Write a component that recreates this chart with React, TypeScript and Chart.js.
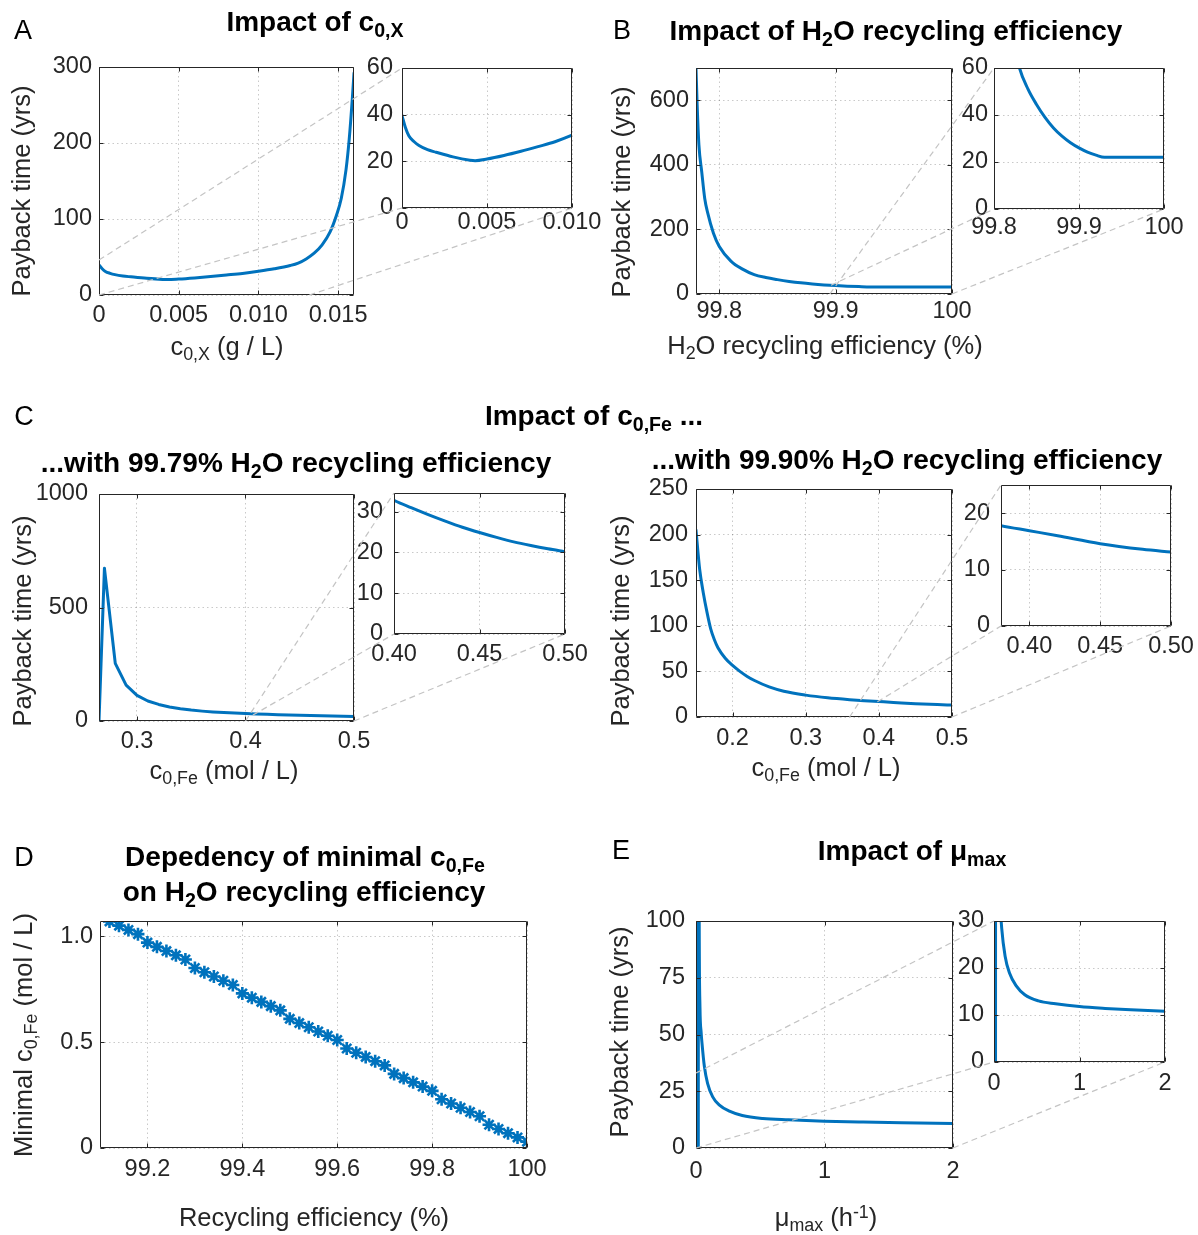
import React, { useEffect, useRef } from "react";
import { Chart, registerables } from "chart.js";

Chart.register(...registerables);

const BLUE = "#0072BD";
const AXIS = "#262626";
const GRID = "rgba(38,38,38,0.25)";
const CONN = "#c4c4c4";
const FONT = '"Liberation Sans", Arial, Helvetica, sans-serif';

// ---------------- Panel A : impact of c0,X ----------------
const A_X = [0, 0.0002, 0.0004, 0.0007, 0.001, 0.0015, 0.002, 0.003, 0.004, 0.0043, 0.005, 0.006, 0.007, 0.008, 0.009, 0.010, 0.011, 0.012, 0.0125, 0.013, 0.0135, 0.014, 0.0145, 0.0149, 0.0152, 0.0155, 0.0157, 0.0159, 0.016];
const A_Y = [39.6, 34.5, 31, 28.5, 26.8, 25, 23.9, 21.9, 20.5, 20.3, 21, 22.5, 24.3, 26.3, 28.4, 31.2, 34.5, 38.8, 42, 47.5, 55, 66, 83, 105, 127, 165, 205, 260, 292];
const A_XTICKS = [0, 0.005, 0.01, 0.015];
const A_XLABELS = ["0", "0.005", "0.010", "0.015"];
const A_YTICKS = [0, 100, 200, 300];
const A_YLABELS = ["0", "100", "200", "300"];
const AI_XTICKS = [0, 0.005, 0.01];
const AI_XLABELS = ["0", "0.005", "0.010"];
const AI_YTICKS = [0, 20, 40, 60];
const AI_YLABELS = ["0", "20", "40", "60"];

// ---------------- Panel B : H2O recycling efficiency ----------------
const B_X = [99.78, 99.781, 99.7825, 99.785, 99.7875, 99.79, 99.795, 99.8, 99.81, 99.82, 99.83, 99.84, 99.85, 99.86, 99.87, 99.88, 99.89, 99.9, 99.91, 99.92, 99.93, 99.96, 100];
const B_Y = [700, 585, 462, 376, 296, 252, 188, 147, 102, 77, 60, 51, 44.5, 39, 34.5, 31, 28.2, 26, 24.2, 22.9, 22, 22, 22];
const B_XTICKS = [99.8, 99.9, 100];
const B_XLABELS = ["99.8", "99.9", "100"];
const B_YTICKS = [0, 200, 400, 600];
const B_YLABELS = ["0", "200", "400", "600"];
const BI_YTICKS = [0, 20, 40, 60];
const BI_YLABELS = ["0", "20", "40", "60"];

// ---------------- Panel C : c0,Fe at 99.79 % ----------------
const CL_X = [0.265, 0.27, 0.28, 0.29, 0.3, 0.31, 0.32, 0.33, 0.34, 0.35, 0.36, 0.37, 0.38, 0.39, 0.4, 0.41, 0.42, 0.43, 0.44, 0.45, 0.46, 0.47, 0.48, 0.49, 0.5];
const CL_Y = [0, 673, 254, 158, 113, 88, 73, 62, 54, 48, 43.5, 40, 37.3, 35, 32.8, 31, 29.3, 27.7, 26.2, 24.9, 23.7, 22.6, 21.7, 20.9, 20.2];
const CL_XTICKS = [0.3, 0.4, 0.5];
const CL_XLABELS = ["0.3", "0.4", "0.5"];
const CL_YTICKS = [0, 500, 1000];
const CL_YLABELS = ["0", "500", "1000"];
const CLI_XTICKS = [0.4, 0.45, 0.5];
const CLI_XLABELS = ["0.40", "0.45", "0.50"];
const CLI_YTICKS = [0, 10, 20, 30];
const CLI_YLABELS = ["0", "10", "20", "30"];

// ---------------- Panel C : c0,Fe at 99.90 % ----------------
const CR_X = [0.15, 0.155, 0.16, 0.165, 0.17, 0.175, 0.18, 0.19, 0.2, 0.21, 0.22, 0.23, 0.25, 0.27, 0.3, 0.33, 0.36, 0.38, 0.4, 0.42, 0.45, 0.48, 0.5];
const CR_Y = [205, 162, 136, 115, 97, 85, 76, 64.5, 56.5, 50, 44.5, 40, 33, 28.3, 24, 21, 18.9, 17.8, 16.9, 16, 14.6, 13.6, 13.1];
const CR_XTICKS = [0.2, 0.3, 0.4, 0.5];
const CR_XLABELS = ["0.2", "0.3", "0.4", "0.5"];
const CR_YTICKS = [0, 50, 100, 150, 200, 250];
const CR_YLABELS = ["0", "50", "100", "150", "200", "250"];
const CRI_XTICKS = [0.4, 0.45, 0.5];
const CRI_XLABELS = ["0.40", "0.45", "0.50"];
const CRI_YTICKS = [0, 10, 20];
const CRI_YLABELS = ["0", "10", "20"];

// ---------------- Panel D : minimal c0,Fe ----------------
const D_X = [99.12, 99.14, 99.16, 99.18, 99.2, 99.22, 99.24, 99.26, 99.28, 99.3, 99.32, 99.34, 99.36, 99.38, 99.4, 99.42, 99.44, 99.46, 99.48, 99.5, 99.52, 99.54, 99.56, 99.58, 99.6, 99.62, 99.64, 99.66, 99.68, 99.7, 99.72, 99.74, 99.76, 99.78, 99.8, 99.82, 99.84, 99.86, 99.88, 99.9, 99.92, 99.94, 99.96, 99.98, 100];
const D_Y = [1.07, 1.05, 1.03, 1.01, 0.97, 0.95, 0.93, 0.91, 0.89, 0.85, 0.83, 0.81, 0.79, 0.77, 0.73, 0.71, 0.69, 0.67, 0.65, 0.61, 0.59, 0.57, 0.55, 0.53, 0.51, 0.47, 0.45, 0.43, 0.41, 0.39, 0.35, 0.33, 0.31, 0.29, 0.27, 0.23, 0.21, 0.19, 0.17, 0.15, 0.11, 0.09, 0.07, 0.05, 0.03];
const D_XTICKS = [99.2, 99.4, 99.6, 99.8, 100];
const D_XLABELS = ["99.2", "99.4", "99.6", "99.8", "100"];
const D_YTICKS = [0, 0.5, 1.0];
const D_YLABELS = ["0", "0.5", "1.0"];

// ---------------- Panel E : mu max ----------------
const E_X = [0.018, 0.019, 0.025, 0.031, 0.04, 0.047, 0.065, 0.09, 0.13, 0.18, 0.26, 0.36, 0.52, 0.72, 1.0, 1.3, 1.6, 2.0];
const E_Y = [0, 300, 100, 62, 51, 46, 36, 28.5, 22.5, 19, 16.2, 14.3, 13, 12.4, 11.8, 11.4, 11.1, 10.8];
const E_XTICKS = [0, 1, 2];
const E_XLABELS = ["0", "1", "2"];
const E_YTICKS = [0, 25, 50, 75, 100];
const E_YLABELS = ["0", "25", "50", "75", "100"];
const EI_YTICKS = [0, 10, 20, 30];
const EI_YLABELS = ["0", "10", "20", "30"];

type Spec = {
  key: string;
  xr: [number, number];
  yr: [number, number];
  xt: number[]; xl: string[];
  yt: number[]; yl: string[];
  xs: number[]; ys: number[];
  markers?: boolean;
  smooth?: boolean;
};

const SPECS: Spec[] = [
  { key: "A", xr: [0, 0.016], yr: [0, 300], xt: A_XTICKS, xl: A_XLABELS, yt: A_YTICKS, yl: A_YLABELS, xs: A_X, ys: A_Y, smooth: true },
  { key: "Ai", xr: [0, 0.01], yr: [0, 60], xt: AI_XTICKS, xl: AI_XLABELS, yt: AI_YTICKS, yl: AI_YLABELS, xs: A_X, ys: A_Y, smooth: true },
  { key: "B", xr: [99.78, 100], yr: [0, 700], xt: B_XTICKS, xl: B_XLABELS, yt: B_YTICKS, yl: B_YLABELS, xs: B_X, ys: B_Y, smooth: true },
  { key: "Bi", xr: [99.8, 100], yr: [0, 60], xt: B_XTICKS, xl: B_XLABELS, yt: BI_YTICKS, yl: BI_YLABELS, xs: B_X, ys: B_Y, smooth: true },
  { key: "CL", xr: [0.265, 0.5], yr: [0, 1000], xt: CL_XTICKS, xl: CL_XLABELS, yt: CL_YTICKS, yl: CL_YLABELS, xs: CL_X, ys: CL_Y },
  { key: "CLi", xr: [0.4, 0.5], yr: [0, 34.6], xt: CLI_XTICKS, xl: CLI_XLABELS, yt: CLI_YTICKS, yl: CLI_YLABELS, xs: CL_X, ys: CL_Y, smooth: true },
  { key: "CR", xr: [0.15, 0.5], yr: [0, 250], xt: CR_XTICKS, xl: CR_XLABELS, yt: CR_YTICKS, yl: CR_YLABELS, xs: CR_X, ys: CR_Y, smooth: true },
  { key: "CRi", xr: [0.38, 0.5], yr: [0, 25], xt: CRI_XTICKS, xl: CRI_XLABELS, yt: CRI_YTICKS, yl: CRI_YLABELS, xs: CR_X, ys: CR_Y, smooth: true },
  { key: "D", xr: [99.1, 100], yr: [0, 1.072], xt: D_XTICKS, xl: D_XLABELS, yt: D_YTICKS, yl: D_YLABELS, xs: D_X, ys: D_Y, markers: true },
  { key: "E", xr: [0, 2], yr: [0, 100], xt: E_XTICKS, xl: E_XLABELS, yt: E_YTICKS, yl: E_YLABELS, xs: E_X, ys: E_Y, smooth: true },
  { key: "Ei", xr: [0, 2], yr: [0, 30], xt: E_XTICKS, xl: E_XLABELS, yt: EI_YTICKS, yl: EI_YLABELS, xs: E_X, ys: E_Y, smooth: true },
];

// plot-box layout (page px): left, top, right, bottom; label gaps
const LAYOUT: Record<string, { box: [number, number, number, number]; xGap: number; yGap: number }> = {
  A: { box: [99, 67, 354, 295], xGap: 21, yGap: 7 },
  Ai: { box: [402, 68, 572, 208], xGap: 15, yGap: 9 },
  B: { box: [696, 68, 952, 294], xGap: 18, yGap: 7 },
  Bi: { box: [994, 68, 1164, 209], xGap: 19, yGap: 6 },
  CL: { box: [99, 494, 354, 721], xGap: 20.5, yGap: 11 },
  CLi: { box: [394, 493, 565, 634], xGap: 21, yGap: 11 },
  CR: { box: [696, 489, 952, 717], xGap: 22, yGap: 8 },
  CRi: { box: [1001, 485, 1171, 626], xGap: 21, yGap: 11 },
  D: { box: [100, 921, 527, 1148], xGap: 21.5, yGap: 7 },
  E: { box: [696, 921, 953, 1148], xGap: 24, yGap: 11 },
  Ei: { box: [994, 921, 1165, 1062], xGap: 22, yGap: 10 },
};

// dashed zoom connectors: point in main chart (data units) -> corner of inset
const CONNECTORS: { main: string; inset: string; from: [number, number]; corner: "tl" | "bl" | "br" }[] = [
  { main: "A", inset: "Ai", from: [0, 46], corner: "tl" },
  { main: "A", inset: "Ai", from: [0, 0], corner: "bl" },
  { main: "A", inset: "Ai", from: [0.0132, 0], corner: "br" },
  { main: "B", inset: "Bi", from: [99.895, 0], corner: "tl" },
  { main: "B", inset: "Bi", from: [99.896, 27], corner: "bl" },
  { main: "B", inset: "Bi", from: [100, 0], corner: "br" },
  { main: "CL", inset: "CLi", from: [0.4, 0], corner: "tl" },
  { main: "CL", inset: "CLi", from: [0.4068, 26], corner: "bl" },
  { main: "CL", inset: "CLi", from: [0.5, 0], corner: "br" },
  { main: "CR", inset: "CRi", from: [0.36, 0], corner: "tl" },
  { main: "CR", inset: "CRi", from: [0.398, 16.6], corner: "bl" },
  { main: "CR", inset: "CRi", from: [0.5, 0], corner: "br" },
  { main: "E", inset: "Ei", from: [0, 33], corner: "tl" },
  { main: "E", inset: "Ei", from: [0, 0], corner: "bl" },
  { main: "E", inset: "Ei", from: [2, 0], corner: "br" },
];

const Y_W = 72;
const PAD_T = 28;
const PAD_R = 52;
const X_H = 44;
const TICK_SIZE = 23.5;

function geom(key: string) {
  const { box } = LAYOUT[key];
  const [l, t, r, b] = box;
  return { left: l - Y_W, top: t - PAD_T, w: Y_W + (r - l) + PAD_R, h: PAD_T + (b - t) + X_H };
}

const boxPlugin = {
  id: "matlabBox",
  afterDraw(chart: any) {
    const { ctx, chartArea: a, scales } = chart;
    ctx.save();
    ctx.strokeStyle = AXIS;
    ctx.lineWidth = 1;
    ctx.setLineDash([]);
    const L = Math.round(a.left) + 0.5, T = Math.round(a.top) + 0.5;
    const R = Math.round(a.right) - 0.5, B = Math.round(a.bottom) - 0.5;
    ctx.beginPath();
    ctx.rect(L, T, R - L, B - T);
    const tl = 4;
    scales.x.ticks.forEach((t: any) => {
      const px = Math.round(scales.x.getPixelForValue(t.value)) + 0.5;
      ctx.moveTo(px, B); ctx.lineTo(px, B - tl);
      ctx.moveTo(px, T); ctx.lineTo(px, T + tl);
    });
    scales.y.ticks.forEach((t: any) => {
      const py = Math.round(scales.y.getPixelForValue(t.value)) + 0.5;
      ctx.moveTo(L, py); ctx.lineTo(L + tl, py);
      ctx.moveTo(R, py); ctx.lineTo(R - tl, py);
    });
    ctx.stroke();
    ctx.restore();
  },
};

function labelFor(ticks: number[], labels: string[], v: number) {
  const i = ticks.findIndex((t) => Math.abs(t - v) < 1e-9);
  return i >= 0 ? labels[i] : "";
}

function buildChart(canvas: HTMLCanvasElement, s: Spec) {
  const lay = LAYOUT[s.key];
  const data = s.xs.map((x, i) => ({ x, y: s.ys[i] }));
  const tickFont = { family: FONT, size: TICK_SIZE, lineHeight: 1 };
  return new Chart(canvas, {
    type: "scatter",
    data: {
      datasets: [
        {
          data,
          showLine: !s.markers,
          borderColor: BLUE,
          backgroundColor: BLUE,
          borderWidth: s.markers ? 2.6 : 3,
          pointRadius: s.markers ? 6.5 : 0,
          pointStyle: "star",
          pointBorderWidth: 2.6,
          pointBorderColor: BLUE,
          tension: 0,
          cubicInterpolationMode: s.smooth ? "monotone" : "default",
          borderJoinStyle: "round",
          borderCapStyle: "round",
        } as any,
      ],
    },
    options: {
      responsive: false,
      maintainAspectRatio: false,
      animation: false,
      events: [],
      layout: { padding: { left: 0, top: PAD_T, right: PAD_R, bottom: 0 } },
      plugins: { legend: { display: false }, tooltip: { enabled: false }, title: { display: false } },
      scales: {
        x: {
          type: "linear",
          position: "bottom",
          min: s.xr[0],
          max: s.xr[1],
          bounds: "data",
          afterBuildTicks: (sc: any) => { sc.ticks = s.xt.map((v) => ({ value: v })); },
          afterFit: (sc: any) => { sc.height = X_H; },
          ticks: {
            autoSkip: false,
            maxRotation: 0,
            minRotation: 0,
            padding: lay.xGap - TICK_SIZE / 2,
            color: AXIS,
            font: tickFont,
            callback: (v: any) => labelFor(s.xt, s.xl, Number(v)),
          },
          grid: { color: GRID, lineWidth: 1, drawTicks: false },
          border: { display: false, dash: [1.5, 3] },
        },
        y: {
          type: "linear",
          position: "left",
          min: s.yr[0],
          max: s.yr[1],
          bounds: "data",
          afterBuildTicks: (sc: any) => { sc.ticks = s.yt.map((v) => ({ value: v })); },
          afterFit: (sc: any) => { sc.width = Y_W; },
          ticks: {
            autoSkip: false,
            padding: lay.yGap,
            color: AXIS,
            font: tickFont,
            callback: (v: any) => labelFor(s.yt, s.yl, Number(v)),
          },
          grid: { color: GRID, lineWidth: 1, drawTicks: false },
          border: { display: false, dash: [1.5, 3] },
        },
      },
    } as any,
    plugins: [boxPlugin],
  });
}

function T(props: { x: number; y: number; size: number; bold?: boolean; rot?: boolean; color?: string; children: any }) {
  const { x, y, size, bold, rot, color, children } = props;
  return (
    <div
      style={{
        position: "absolute",
        left: x,
        top: y,
        width: "max-content",
        transform: `translate(-50%, -50%)${rot ? " rotate(-90deg)" : ""}`,
        fontFamily: FONT,
        fontSize: size,
        fontWeight: bold ? 700 : 400,
        lineHeight: 1,
        whiteSpace: "nowrap",
        color: color || "#000",
      }}
    >
      {children}
    </div>
  );
}
const Sb = ({ children }: any) => <span style={{ fontSize: "0.7em", position: "relative", top: "0.3em" }}>{children}</span>;
const Sp = ({ children }: any) => <span style={{ fontSize: "0.7em", position: "relative", top: "-0.45em" }}>{children}</span>;

const TITLE = 28;
const AXT = 25.5;
const LET = 27;

export default function App() {
  const refs = useRef<Record<string, HTMLCanvasElement | null>>({});
  const overlay = useRef<HTMLCanvasElement | null>(null);

  useEffect(() => {
    const charts: Record<string, any> = {};
    SPECS.forEach((s) => {
      const c = refs.current[s.key];
      if (c) charts[s.key] = buildChart(c, s);
    });
    const ov = overlay.current;
    if (ov) {
      const ctx = ov.getContext("2d")!;
      ctx.clearRect(0, 0, ov.width, ov.height);
      ctx.strokeStyle = CONN;
      ctx.lineWidth = 1.2;
      ctx.setLineDash([6, 4]);
      CONNECTORS.forEach((cn) => {
        const m = charts[cn.main];
        const ins = charts[cn.inset];
        if (!m || !ins) return;
        const mg = geom(cn.main);
        const ig = geom(cn.inset);
        const spec = SPECS.find((s) => s.key === cn.inset)!;
        const cx = cn.corner === "br" ? spec.xr[1] : spec.xr[0];
        const cy = cn.corner === "tl" ? spec.yr[1] : spec.yr[0];
        const x1 = mg.left + m.scales.x.getPixelForValue(cn.from[0]);
        const y1 = mg.top + m.scales.y.getPixelForValue(cn.from[1]);
        const x2 = ig.left + ins.scales.x.getPixelForValue(cx);
        const y2 = ig.top + ins.scales.y.getPixelForValue(cy);
        ctx.beginPath();
        ctx.moveTo(x1, y1);
        ctx.lineTo(x2, y2);
        ctx.stroke();
      });
    }
    return () => {
      Object.values(charts).forEach((c) => c.destroy());
    };
  }, []);

  return (
    <div style={{ position: "absolute", left: 0, top: 0, width: 1198, height: 1235, background: "#fff", overflow: "hidden" }}>
      {SPECS.map((s) => {
        const g = geom(s.key);
        return (
          <canvas
            key={s.key}
            ref={(el) => { refs.current[s.key] = el; }}
            width={g.w}
            height={g.h}
            style={{ position: "absolute", left: g.left, top: g.top, width: g.w, height: g.h }}
          />
        );
      })}
      <canvas ref={overlay} width={1198} height={1235} style={{ position: "absolute", left: 0, top: 0, pointerEvents: "none" }} />

      {/* panel letters */}
      <T x={23} y={30} size={LET}>A</T>
      <T x={622} y={30} size={LET}>B</T>
      <T x={24} y={416} size={LET}>C</T>
      <T x={24} y={857} size={LET}>D</T>
      <T x={621} y={850} size={LET}>E</T>

      {/* panel titles */}
      <T x={315} y={22} size={TITLE} bold>Impact of c<Sb>0,X</Sb></T>
      <T x={896} y={31} size={TITLE} bold>Impact of H<Sb>2</Sb>O recycling efficiency</T>
      <T x={594} y={416} size={TITLE} bold>Impact of c<Sb>0,Fe</Sb> ...</T>
      <T x={296} y={463} size={TITLE} bold>...with 99.79% H<Sb>2</Sb>O recycling efficiency</T>
      <T x={907} y={460} size={TITLE} bold>...with 99.90% H<Sb>2</Sb>O recycling efficiency</T>
      <T x={305} y={857} size={TITLE} bold>Depedency of minimal c<Sb>0,Fe</Sb></T>
      <T x={304} y={892} size={TITLE} bold>on H<Sb>2</Sb>O recycling efficiency</T>
      <T x={912} y={851} size={TITLE} bold>Impact of μ<Sb>max</Sb></T>

      {/* axis titles */}
      <T x={227} y={347} size={AXT} color={AXIS}>c<Sb>0,X</Sb> (g / L)</T>
      <T x={825} y={346} size={AXT} color={AXIS}>H<Sb>2</Sb>O recycling efficiency (%)</T>
      <T x={224} y={771} size={AXT} color={AXIS}>c<Sb>0,Fe</Sb> (mol / L)</T>
      <T x={826} y={768} size={AXT} color={AXIS}>c<Sb>0,Fe</Sb> (mol / L)</T>
      <T x={314} y={1218} size={AXT} color={AXIS}>Recycling efficiency (%)</T>
      <T x={826} y={1218} size={AXT} color={AXIS}>μ<Sb>max</Sb> (h<Sp>-1</Sp>)</T>

      <T x={22} y={191} size={AXT} rot color={AXIS}>Payback time (yrs)</T>
      <T x={622} y={192} size={AXT} rot color={AXIS}>Payback time (yrs)</T>
      <T x={23} y={621} size={AXT} rot color={AXIS}>Payback time (yrs)</T>
      <T x={621} y={621} size={AXT} rot color={AXIS}>Payback time (yrs)</T>
      <T x={24} y={1035} size={AXT} rot color={AXIS}>Minimal c<Sb>0,Fe</Sb> (mol / L)</T>
      <T x={620} y={1032} size={AXT} rot color={AXIS}>Payback time (yrs)</T>
    </div>
  );
}
